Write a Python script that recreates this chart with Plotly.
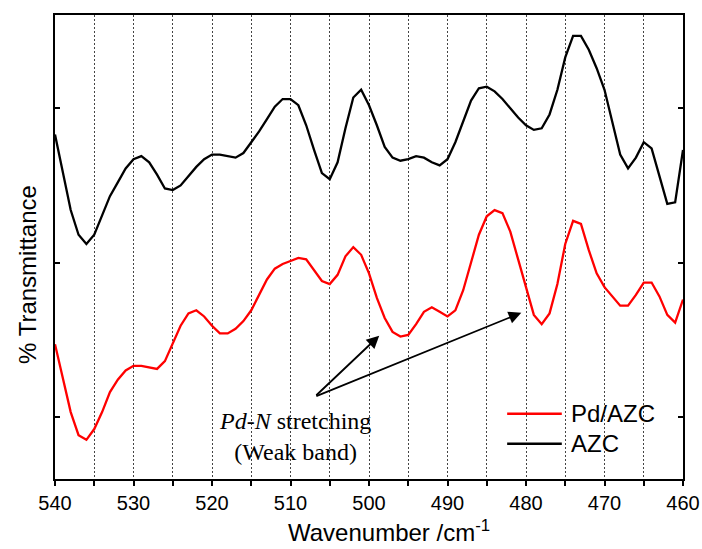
import plotly.graph_objects as go

wavenumber = list(range(540, 459, -1))

azc = [28.3, 25.8, 23.4, 21.8, 21.2, 21.8, 23.0, 24.3, 25.2, 26.1,
       26.7, 26.9, 26.5, 25.7, 24.8, 24.7, 25.0, 25.6, 26.2, 26.7,
       27.0, 27.0, 26.9, 26.8, 27.1, 27.8, 28.5, 29.3, 30.1, 30.6,
       30.6, 30.2, 28.9, 27.3, 25.8, 25.4, 26.5, 28.7, 30.7, 31.2,
       30.2, 28.9, 27.5, 26.8, 26.6, 26.7, 26.9, 26.8, 26.5, 26.3,
       26.7, 27.8, 29.1, 30.5, 31.3, 31.4, 31.1, 30.6, 30.0, 29.4,
       28.9, 28.6, 28.7, 29.6, 31.2, 33.3, 34.7, 34.7, 33.8, 32.6,
       31.2, 29.1, 27.0, 26.1, 26.8, 27.8, 27.4, 25.6, 23.8, 23.9,
       27.3]

pd_azc = [14.7, 12.5, 10.3, 8.8, 8.5, 9.2, 10.3, 11.6, 12.4, 13.0,
          13.3, 13.3, 13.2, 13.1, 13.6, 14.7, 15.9, 16.7, 16.9, 16.5,
          15.9, 15.4, 15.4, 15.7, 16.2, 16.9, 17.9, 18.9, 19.6, 19.9,
          20.1, 20.3, 20.2, 19.5, 18.8, 18.6, 19.2, 20.4, 21.0, 20.5,
          19.3, 17.7, 16.4, 15.5, 15.2, 15.3, 16.0, 16.8, 17.1, 16.8,
          16.5, 16.9, 18.2, 20.0, 21.8, 23.0, 23.4, 23.2, 22.0, 20.2,
          18.4, 16.6, 16.0, 16.7, 18.6, 21.2, 22.7, 22.5, 20.8, 19.3,
          18.4, 17.8, 17.2, 17.2, 17.9, 18.7, 18.7, 17.8, 16.6, 16.1,
          17.6]

series_names = ["Pd/AZC", "AZC"]
series_colors = ["#ff0000", "#000000"]

x_tickvals = list(range(460, 541, 5))
x_ticktext = [str(v) if v % 10 == 0 else "" for v in x_tickvals]
y_tickvals = [10, 20, 30]

# annotation: arrow tail (text point) and heads
arrow_tail = (506.9, 11.3)
arrow_heads = [(498.7, 15.25), (480.6, 16.74)]

SANS = "Arial, Liberation Sans, sans-serif"
SERIF = "Times New Roman, Liberation Serif, serif"

fig = go.Figure()
fig.add_trace(go.Scatter(x=wavenumber, y=azc, mode="lines", name=series_names[1],
                         line=dict(color=series_colors[1], width=2.3), showlegend=False))
fig.add_trace(go.Scatter(x=wavenumber, y=pd_azc, mode="lines", name=series_names[0],
                         line=dict(color=series_colors[0], width=2.3), showlegend=False))

for hx, hy in arrow_heads:
    fig.add_annotation(x=hx, y=hy, ax=arrow_tail[0], ay=arrow_tail[1],
                       xref="x", yref="y", axref="x", ayref="y",
                       text="", showarrow=True, arrowhead=2, arrowsize=1.4,
                       arrowwidth=1.8, arrowcolor="black")

fig.add_annotation(x=509.4, y=8.7, xref="x", yref="y",
                   text="<i>Pd-N</i> stretching<br>(Weak band)", showarrow=False,
                   font=dict(family=SERIF, size=24, color="black"),
                   align="center", xanchor="center", yanchor="middle")

# manual legend
leg_y = [0.1406, 0.0760]
for name, color, ly in zip(series_names, series_colors, leg_y):
    fig.add_shape(type="line", xref="paper", yref="paper", x0=0.720, x1=0.807,
                  y0=ly, y1=ly, line=dict(color=color, width=2.3))
    fig.add_annotation(x=0.818, y=ly, xref="paper", yref="paper", text=name,
                       showarrow=False, xanchor="left", yanchor="middle",
                       font=dict(family=SANS, size=24, color="black"))

# axis titles
fig.add_annotation(x=-0.043, y=0.442, xref="paper", yref="paper",
                   text="% Transmittance", textangle=-90, showarrow=False,
                   xanchor="center", yanchor="middle",
                   font=dict(family=SANS, size=24, color="black"))
fig.add_annotation(x=0.532, y=-0.148, xref="paper", yref="paper",
                   text="Wavenumber /cm<sup>-1</sup>", showarrow=False,
                   xanchor="center", yanchor="bottom",
                   font=dict(family=SANS, size=24, color="black"))

fig.update_layout(
    width=702, height=549,
    margin=dict(l=55, r=19, t=15, b=70),
    paper_bgcolor="white", plot_bgcolor="white",
    font=dict(family=SANS, color="black"),
)
fig.update_xaxes(range=[540, 460], tickvals=x_tickvals, ticktext=x_ticktext,
                 ticks="outside", ticklen=5, tickwidth=1.5, tickcolor="black",
                 showline=True, linewidth=1.8, linecolor="black", mirror=True,
                 showgrid=True, gridcolor="#444444", griddash="2px,2px", gridwidth=1,
                 zeroline=False, automargin=False,
                 tickfont=dict(family=SANS, size=20, color="black"))
fig.update_yaxes(range=[5.96, 36.05], tickvals=y_tickvals, showticklabels=False,
                 ticks="inside", ticklen=5, tickwidth=1.5, tickcolor="black",
                 showline=True, linewidth=1.8, linecolor="black", mirror="allticks",
                 showgrid=False, zeroline=False, automargin=False)

fig.write_html("out.html")
